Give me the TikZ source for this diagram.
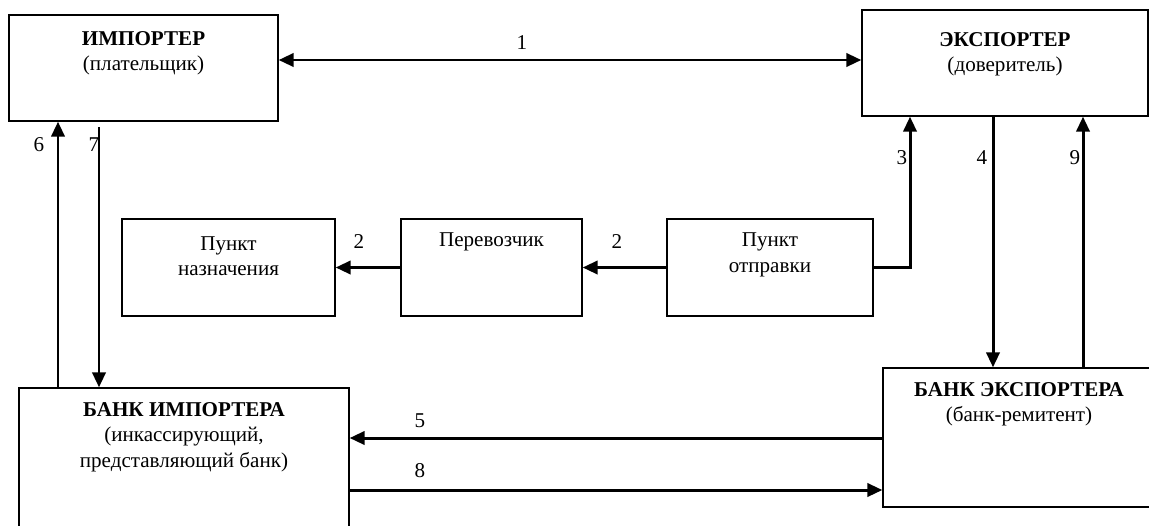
\documentclass[tikz,border=0pt]{standalone}
\usepackage{fontspec}
\setmainfont{Liberation Serif}
\usepackage{tikz}
\usetikzlibrary{arrows.meta}
\tikzstyle{Box}=[draw=black,line width=0.75pt,inner sep=0pt,fill=white]
\tikzstyle{Edge}=[draw=black,line width=1.7pt,->,
>={Triangle[length=8.5pt,width=7.5pt]}]
\tikzstyle{NodeST}=[font=\fontsize{12}{14.5}\selectfont,align=center,
inner sep=0pt]

\begin{document}
\begin{tikzpicture}[x=0.02cm,y=-0.02cm]
        \fill[white](0,0)rectangle(1149,525);
        \clip(0,0)rectangle(1149,525);
        \node[Box,minimum width=5.38cm,minimum height=2.12cm](imp)at(143.5,68){};
        \node[Box,minimum width=5.72cm,minimum height=2.12cm](exp)at(1005,63){};
        \node[Box,minimum width=4.26cm,minimum height=1.94cm](pn)at(228.5,267.5){};
        \node[Box,minimum width=3.62cm,minimum height=1.94cm](per)at(491.5,267.5){};
        \node[Box,minimum width=4.12cm,minimum height=1.94cm](po)at(770,267.5){};
        \node[Box,minimum width=6.60cm,minimum height=3.04cm](bimp)at(184,464){};
        \node[Box,minimum width=5.54cm,minimum height=2.78cm](bexp)at(1021.5,437.5){};
        \node[NodeST](impT)at(143.5,53){\textbf{ИМПОРТЕР}\\(плательщик)};
        \node[NodeST](expT)at(1005,54){\textbf{ЭКСПОРТЕР}\\(доверитель)};
        \node[NodeST](pnT)at(228.5,256){Пункт\\назначения};
        \node[NodeST](perT)at(491.5,242){Перевозчик};
        \node[NodeST](poT)at(770,255){Пункт\\отправки};
        \node[NodeST](bimpT)at(184,437){\textbf{БАНК ИМПОРТЕРА}\\(инкассирующий,\\представляющий банк)};
        \node[NodeST](bexpT)at(1019,404){\textbf{БАНК ЭКСПОРТЕРА}\\(банк-ремитент)};
        \coordinate(c1)at(0,60);
        \coordinate(c3)at(910,0);
        \coordinate(c4)at(993,0);
        \coordinate(c9)at(1083,0);
        \coordinate(c5)at(0,438);
        \coordinate(c8)at(0,490);
        \coordinate(c6)at(58,0);
        \coordinate(s7)at(99,127);
        \draw[Edge,<->](imp.east|-c1)--(exp.west|-c1);
        \draw[Edge](per.west)--(pn.east);
        \draw[Edge](po.west)--(per.east);
        \draw[Edge](po.east)-|(exp.south-|c3);
        \draw[Edge](exp.south-|c4)--(bexp.north-|c4);
        \draw[Edge](bexp.north-|c9)--(exp.south-|c9);
        \draw[Edge](bexp.west|-c5)--(bimp.east|-c5);
        \draw[Edge](bimp.east|-c8)--(bexp.west|-c8);
        \draw[Edge](bimp.north-|c6)--(imp.south-|c6);
        \draw[Edge](s7)--(bimp.north-|s7);
        \node[NodeST](l1)at(522,43){1};
        \node[NodeST](l2a)at(359,242){2};
        \node[NodeST](l2b)at(617,242){2};
        \node[NodeST](l3)at(902,158){3};
        \node[NodeST](l4)at(982,158){4};
        \node[NodeST](l9)at(1075,158){9};
        \node[NodeST](l5)at(420,421){5};
        \node[NodeST](l8)at(420,471){8};
        \node[NodeST](l6)at(39,145){6};
        \node[NodeST](l7)at(94,145){7};
    \end{tikzpicture}
\end{document}
